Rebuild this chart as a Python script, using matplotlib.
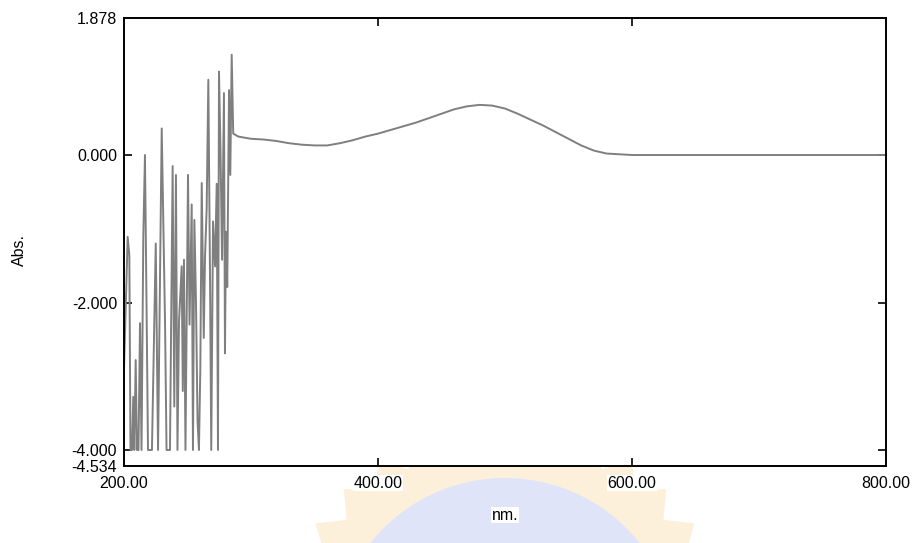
import numpy as np
import matplotlib
matplotlib.use("Agg")
import matplotlib.pyplot as plt
from matplotlib.patches import Circle, Polygon
from matplotlib.transforms import IdentityTransform

plt.rcParams['font.family'] = ['Liberation Sans', 'DejaVu Sans']

# noisy region below ~286 nm (detector saturates at -4.0)
noise_nm = [200.0, 202.9, 204.2, 205.1, 206.3, 207.3, 208.1, 209.2, 210.2, 211.4,
            212.6, 213.8, 215.2, 216.5, 217.9, 218.9, 222.0, 225.0, 226.8, 229.7,
            232.3, 233.5, 236.2, 238.3, 239.6, 240.9, 242.1, 243.3, 245.4, 246.3,
            247.2, 248.4, 250.4, 251.6, 253.3, 254.3, 255.4, 256.7, 257.9, 259.0,
            260.1, 261.2, 262.8, 263.8, 265.1, 266.4, 267.7, 268.7, 270.1, 271.7,
            273.0, 274.0, 274.8, 276.0, 277.2, 278.7, 279.5, 280.3, 281.3, 282.7,
            283.7, 284.8]
noise_abs = [-2.9, -1.11, -1.36, -4.0, -4.0, -3.28, -4.0, -2.78, -4.0, -4.0,
             -2.28, -4.0, -1.11, 0.0, -2.30, -4.0, -4.0, -1.20, -4.0, 0.36,
             -2.26, -4.0, -4.0, -0.15, -3.41, -0.27, -4.0, -2.26, -1.51, -3.2,
             -1.42, -4.0, -0.27, -2.3, -0.67, -4.0, -0.88, -2.0, -3.6, -4.0,
             -2.9, -0.38, -2.48, -1.38, -0.72, 1.02, -1.6, -4.0, -0.9, -1.51,
             -0.39, -4.0, 1.13, 0.05, -1.42, 0.84, -2.69, -1.04, -1.79, 0.88,
             -0.27, 1.36]

# smooth absorbance band
smooth_nm = [286, 290, 300, 310, 320, 330, 340, 350, 360, 370, 380, 390, 400,
             410, 420, 430, 440, 450, 460, 470, 480, 490, 500, 510, 520, 530,
             540, 550, 560, 570, 580, 590, 600, 700, 800]
smooth_abs = [0.29, 0.25, 0.22, 0.21, 0.19, 0.16, 0.14, 0.13, 0.13, 0.16, 0.20,
              0.25, 0.29, 0.34, 0.39, 0.44, 0.50, 0.56, 0.62, 0.66, 0.68, 0.67,
              0.63, 0.56, 0.48, 0.40, 0.31, 0.22, 0.13, 0.06, 0.02, 0.01, 0.0,
              0.0, 0.0]

nm = noise_nm + smooth_nm
absv = noise_abs + smooth_abs

y_top, y_bot = 1.862, -4.217
y_ticks = [y_top, 0.0, -2.0, -4.0, y_bot]
y_labels = ["1.878", "0.000", "-2.000", "-4.000", "-4.534"]
x_ticks = [200, 400, 600, 800]
x_labels = ["200.00", "400.00", "600.00", "800.00"]

fig = plt.figure(figsize=(9.15, 5.43), dpi=100)

# faint watermark logo behind the bottom labels (drawn under the axes)
cx, cy = 505, 543 - 650
pts = []
for i in range(64):
    a = np.pi * 2 * i / 64
    r = 228 if i % 2 == 0 else 205
    pts.append((cx + r * np.cos(a), cy + r * np.sin(a)))
fig.patches.append(Polygon(pts, closed=True, transform=IdentityTransform(),
                           facecolor='#fdf0da', edgecolor='none', zorder=-2))
fig.patches.append(Circle((cx, cy), 172, transform=IdentityTransform(),
                          facecolor='#e0e4f8', edgecolor='none', zorder=-1))

ax = fig.add_axes([124 / 915, 1 - 466 / 543, (886 - 124) / 915, (466 - 17.7) / 543])
ax.plot(nm, absv, color='#7f7f7f', lw=1.4)

ax.set_xlim(200, 800)
ax.set_ylim(y_bot, y_top)
ax.set_xticks(x_ticks)
ax.set_xticklabels(x_labels)
ax.set_yticks(y_ticks)
ax.set_yticklabels(y_labels)

ax.tick_params(direction='in', length=6, width=1.2, labelsize=11.5,
               top=True, right=True, pad=5, colors='black')
ax.tick_params(axis='x', pad=7)
for lbl in ax.get_xticklabels():
    lbl.set_bbox(dict(facecolor='white', edgecolor='none', pad=0.5))

# hide tick marks at the axis ends
for t in ax.yaxis.get_major_ticks():
    if t.get_loc() in (y_top, y_bot):
        t.tick1line.set_visible(False)
        t.tick2line.set_visible(False)
for t in ax.xaxis.get_major_ticks():
    if t.get_loc() in (200, 800):
        t.tick1line.set_visible(False)
        t.tick2line.set_visible(False)

for s in ax.spines.values():
    s.set_linewidth(1.4)
    s.set_color('black')

fig.text(19 / 915, 1 - 250 / 543, "Abs.", rotation=90, ha='center', va='center', fontsize=11.5)
fig.text(505 / 915, 1 - 515 / 543, "nm.", ha='center', va='center', fontsize=11.5,
         bbox=dict(facecolor='white', edgecolor='none', pad=0.5))

fig.savefig("out.png", dpi=100)
